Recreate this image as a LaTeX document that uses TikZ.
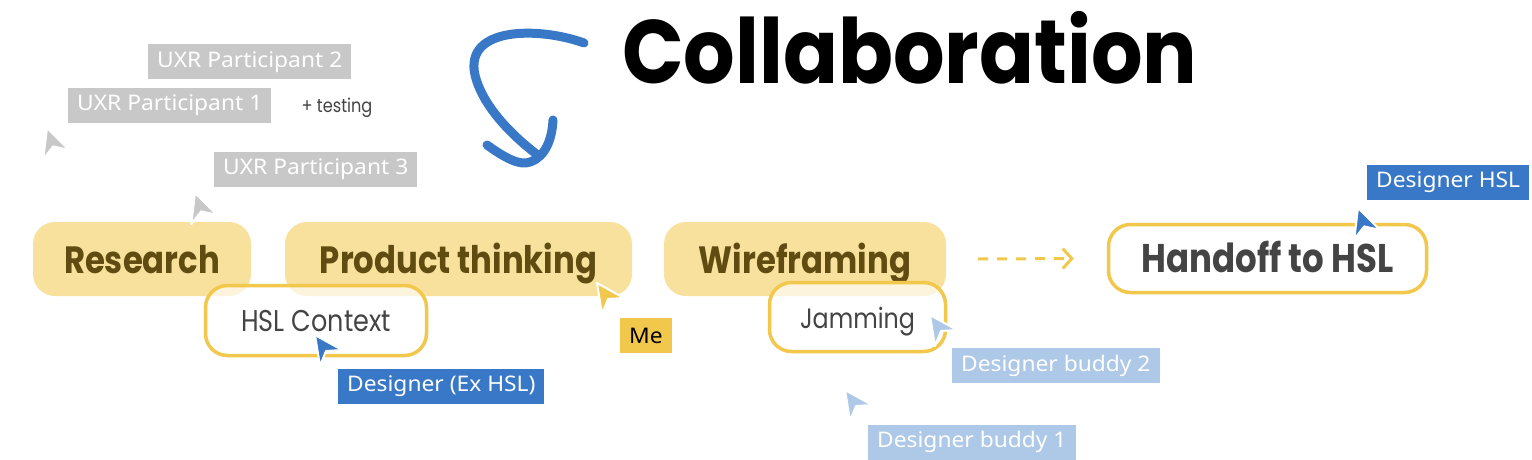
\documentclass[tikz,border=0pt]{standalone}
\usepackage{fontspec}
\setmainfont{Noto Sans}
\newfontfamily\futura[FakeStretch=0.85]{Poppins}
\newfontfamily\titlefont[FakeStretch=0.9]{Poppins}
\newfontfamily\tagfont[FakeStretch=1.06]{Noto Sans}
\usetikzlibrary{arrows.meta, positioning}

\definecolor{hslyellow}{RGB}{242,200,76}
\definecolor{stagefill}{RGB}{247,225,156}
\definecolor{stagetext}{RGB}{96,76,16}
\definecolor{darktext}{RGB}{68,68,68}
\definecolor{hslblue}{RGB}{56,120,198}
\definecolor{buddyblue}{RGB}{174,200,232}
\definecolor{uxrgray}{RGB}{200,200,200}

\tikzset{
  stage/.style={rounded corners=22pt, fill=stagefill, text=stagetext, minimum height=74pt,
    text height=28pt, text depth=0pt, font=\futura\bfseries\fontsize{38}{40}\selectfont},
  outlined/.style={rounded corners=22pt, draw=hslyellow, line width=3.5pt, fill=white, text=darktext},
  tag/.style={anchor=west, minimum height=35pt, inner xsep=9pt, inner ysep=0pt, text=white,
    font=\tagfont\fontsize{21.5}{23}\selectfont},
}
\newcommand{\pointer}[3]{% colour, tip, angle
  \draw[draw=white, line width=2pt, line join=round, fill=#1, shift={(#2)}, rotate=#3]
    (0,0) -- (27,15) -- (11,16) -- (5,31) -- cycle;}

\begin{document}
\begin{tikzpicture}[x=1pt, y=-1pt]
  \fill[white] (0,0) rectangle (1532,460);
  \useasboundingbox (0,0) rectangle (1532,460);

  % title and swoop
  \node[anchor=base west, inner sep=0pt, font=\titlefont\bfseries\fontsize{90}{90}\selectfont] (title) at (622,84) {Collaboration};
  \draw[hslblue, line width=9pt, line cap=round, line join=round]
    (584,43) .. controls (540,27) and (464,26) .. (475,75) .. controls (483,108) and (515,138) .. (539,156);
  \draw[hslblue, line width=9pt, line cap=round, line join=round]
    (487,145) .. controls (505,158) and (520,166) .. (530,162) .. controls (545,157) and (552,140) .. (553,120);

  % stages
  \node[stage, minimum width=218pt] (research) at (142,259) {Research};
  \node[stage, minimum width=347pt] (product) at (458.5,259) {Product thinking};
  \node[stage, minimum width=282pt] (wireframe) at (805,259) {Wireframing};
  \node[outlined, minimum width=318pt, minimum height=68pt, text height=28pt, text depth=0pt,
    font=\futura\bfseries\fontsize{40}{42}\selectfont] (handoff) at (1267.5,258.5) {Handoff to HSL};
  \draw[hslyellow, line width=3pt, dash pattern=on 10pt off 9pt, -{Straight Barb[length=9pt, width=20pt, line width=3pt]}]
    ([xshift=32pt]wireframe.east) -- ([xshift=-33pt]handoff.west);

  % overlapping boxes
  \node[outlined, fill opacity=0.65, text opacity=1, minimum width=221pt, minimum height=70pt,
    text height=22pt, text depth=0pt, font=\futura\fontsize{30}{32}\selectfont] (context) at (316,320.5) {HSL Context};
  \node[outlined, fill opacity=0.65, text opacity=1, minimum width=176pt, minimum height=69pt,
    text height=22pt, text depth=0pt, font=\futura\fontsize{28}{30}\selectfont] (jamming) at (857.5,317) {Jamming};
  \node[text=darktext, font=\futura\fontsize{19}{20}\selectfont] (testing) at (337,108) {+ testing};

  % cursors
  \pointer{uxrgray}{129,86}{-16}
  \pointer{uxrgray}{47,128}{-16}
  \pointer{uxrgray}{195,193}{-16}
  \pointer{hslyellow}{597,283}{0}
  \pointer{hslblue}{315,335}{0}
  \pointer{buddyblue}{930,315}{0}
  \pointer{buddyblue}{845,390}{0}
  \pointer{hslblue}{1358,208}{-16}

  % name tags
  \node[tag, fill=uxrgray] (uxrtwo) at (148,62) {UXR Participant 2};
  \node[tag, fill=uxrgray] (uxrone) at (68,105.5) {UXR Participant 1};
  \node[tag, fill=uxrgray] (uxrthree) at (214,169.5) {UXR Participant 3};
  \node[tag, fill=hslyellow, text=black] (me) at (620,335.5) {Me};
  \node[tag, fill=hslblue] (exhsl) at (338,386.5) {Designer (Ex HSL)};
  \node[tag, fill=hslblue] (hsl) at (1367,182) {Designer HSL};
  \node[tag, fill=buddyblue] (buddytwo) at (952,365.5) {Designer buddy 2};
  \node[tag, fill=buddyblue] (buddyone) at (868,442) {Designer buddy 1};
\end{tikzpicture}
\end{document}
